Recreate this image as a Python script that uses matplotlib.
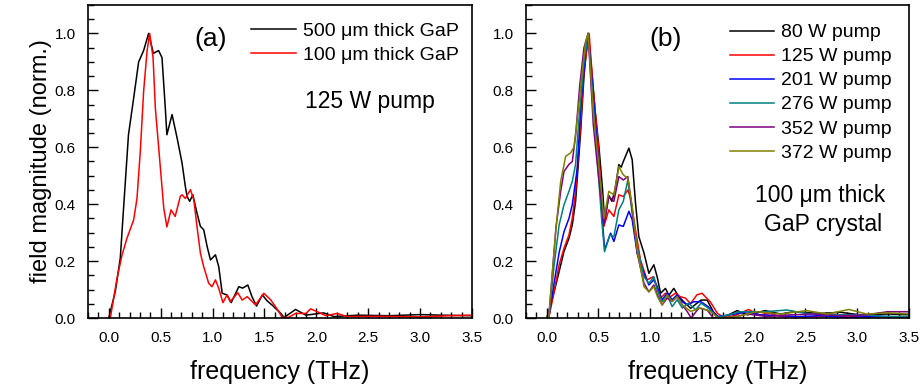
import matplotlib
matplotlib.use("Agg")
import matplotlib.pyplot as plt
from matplotlib.ticker import MultipleLocator, FormatStrFormatter

plt.rcParams['font.family'] = ['Liberation Sans', 'DejaVu Sans']

# (a) 125 W pump, two crystal thicknesses
f_500 = [0.0, 0.063, 0.111, 0.143, 0.19, 0.24, 0.288, 0.336, 0.384, 0.43,
         0.48, 0.513, 0.545, 0.56, 0.61, 0.66, 0.706, 0.738, 0.755, 0.78,
         0.81, 0.85, 0.883, 0.915, 0.948, 0.98, 1.028, 1.06, 1.093, 1.14,
         1.18, 1.253, 1.29, 1.34, 1.38, 1.424, 1.48, 1.527, 1.575, 1.655,
         1.69, 1.80, 1.90, 2.07, 2.17, 2.4, 2.7, 3.0, 3.2, 3.5]
v_500 = [0.0, 0.093, 0.21, 0.387, 0.644, 0.773, 0.90, 0.94, 1.0, 0.93,
         0.94, 0.915, 0.737, 0.644, 0.715, 0.63, 0.545, 0.462, 0.427, 0.41,
         0.433, 0.369, 0.322, 0.31, 0.251, 0.204, 0.222, 0.18, 0.087, 0.081,
         0.054, 0.11, 0.105, 0.116, 0.075, 0.042, 0.081, 0.06, 0.045, 0.017,
         0.002, 0.03, 0.01, 0.018, 0.005, 0.01, 0.008, 0.012, 0.01, 0.008]
f_100 = [0.015, 0.08, 0.127, 0.175, 0.24, 0.272, 0.304, 0.336, 0.369, 0.394,
         0.427, 0.449, 0.49, 0.53, 0.56, 0.60, 0.64, 0.69, 0.706, 0.738,
         0.787, 0.82, 0.85, 0.883, 0.915, 0.963, 0.995, 1.028, 1.06, 1.10,
         1.14, 1.17, 1.243, 1.285, 1.334, 1.414, 1.494, 1.56, 1.64, 1.67,
         1.73, 1.80, 1.90, 1.945, 2.01, 2.09, 2.20, 2.30, 2.6, 3.0,
         3.3, 3.5]
v_100 = [0.0, 0.14, 0.22, 0.28, 0.345, 0.42, 0.586, 0.797, 0.938, 1.0,
         0.915, 0.737, 0.56, 0.386, 0.32, 0.38, 0.357, 0.428, 0.433, 0.42,
         0.451, 0.415, 0.322, 0.228, 0.18, 0.122, 0.11, 0.134, 0.104, 0.054,
         0.081, 0.057, 0.089, 0.063, 0.075, 0.046, 0.087, 0.064, 0.022, 0.002,
         0.002, 0.016, 0.016, 0.032, 0.022, 0.008, 0.016, 0.005, 0.006, 0.004,
         0.008, 0.01]

# (b) 100 um crystal, different pump powers
f_80 = [0.0, 0.05, 0.12, 0.167, 0.215, 0.247, 0.279, 0.328, 0.36, 0.40,
        0.44, 0.47, 0.505, 0.54, 0.56, 0.60, 0.63, 0.66, 0.697, 0.72,
        0.74, 0.794, 0.826, 0.858, 0.89, 0.94, 0.987, 1.035, 1.067, 1.10,
        1.147, 1.18, 1.228, 1.276, 1.325, 1.39, 1.49, 1.55, 1.61, 1.66,
        1.74, 1.84, 1.94, 2.11, 2.26, 2.39, 2.64, 2.84, 3.03, 3.29, 3.5]
v_80 = [0.0, 0.06, 0.163, 0.234, 0.28, 0.327, 0.41, 0.656, 0.85, 1.0,
        0.85, 0.72, 0.6, 0.45, 0.34, 0.43, 0.41, 0.45, 0.539, 0.53,
        0.55, 0.597, 0.556, 0.404, 0.286, 0.228, 0.157, 0.187, 0.145, 0.087,
        0.104, 0.08, 0.104, 0.075, 0.057, 0.034, 0.063, 0.063, 0.022, 0.002,
        0.008, 0.026, 0.011, 0.026, 0.014, 0.022, 0.016, 0.02, 0.011, 0.014, 0.012]
f_125 = [0.0, 0.02, 0.07, 0.12, 0.167, 0.215, 0.247, 0.279, 0.328, 0.36,
         0.41, 0.45, 0.50, 0.53, 0.553, 0.60, 0.649, 0.697, 0.74, 0.784,
         0.81, 0.858, 0.906, 0.97, 1.03, 1.067, 1.10, 1.147, 1.196, 1.244,
         1.29, 1.34, 1.39, 1.45, 1.50, 1.58, 1.65, 1.71, 1.81, 1.95,
         2.05, 2.16, 2.26, 2.5, 2.8, 3.1, 3.5]
v_125 = [0.0, 0.0, 0.09, 0.187, 0.245, 0.292, 0.35, 0.445, 0.68, 0.87,
         1.0, 0.8, 0.6, 0.42, 0.322, 0.38, 0.357, 0.433, 0.427, 0.45,
         0.421, 0.309, 0.204, 0.134, 0.145, 0.11, 0.07, 0.087, 0.075, 0.087,
         0.075, 0.07, 0.05, 0.081, 0.087, 0.057, 0.016, 0.002, 0.007, 0.03,
         0.011, 0.016, 0.005, 0.004, 0.006, 0.004, 0.005]
f_201 = [0.0, 0.02, 0.07, 0.12, 0.167, 0.215, 0.247, 0.296, 0.328, 0.376,
         0.40, 0.45, 0.50, 0.53, 0.56, 0.617, 0.649, 0.697, 0.74, 0.794,
         0.826, 0.874, 0.94, 0.987, 1.035, 1.067, 1.115, 1.164, 1.212, 1.26,
         1.31, 1.357, 1.42, 1.49, 1.56, 1.65, 1.77, 1.94, 2.06, 2.26,
         2.42, 2.64, 2.90, 3.22, 3.5]
v_201 = [0.0, 0.0, 0.12, 0.23, 0.303, 0.35, 0.398, 0.527, 0.74, 0.937,
         1.0, 0.78, 0.55, 0.38, 0.24, 0.298, 0.269, 0.327, 0.322, 0.375,
         0.345, 0.228, 0.157, 0.116, 0.134, 0.11, 0.064, 0.087, 0.064, 0.081,
         0.057, 0.046, 0.057, 0.057, 0.04, 0.005, 0.011, 0.022, 0.011, 0.008,
         0.005, 0.008, 0.002, 0.006, 0.003]
f_276 = [0.0, 0.02, 0.07, 0.12, 0.167, 0.215, 0.247, 0.279, 0.312, 0.36,
         0.40, 0.45, 0.50, 0.53, 0.559, 0.61, 0.649, 0.697, 0.74, 0.784,
         0.826, 0.874, 0.94, 0.987, 1.035, 1.067, 1.115, 1.164, 1.212, 1.26,
         1.31, 1.37, 1.44, 1.49, 1.56, 1.65, 1.87, 2.10, 2.32, 2.51,
         2.77, 3.03, 3.29, 3.5]
v_276 = [0.0, 0.0, 0.18, 0.327, 0.398, 0.445, 0.48, 0.54, 0.70, 0.9,
         1.0, 0.75, 0.5, 0.35, 0.233, 0.292, 0.286, 0.38, 0.41, 0.485,
         0.368, 0.251, 0.145, 0.122, 0.145, 0.099, 0.058, 0.081, 0.04, 0.064,
         0.035, 0.052, 0.029, 0.052, 0.035, 0.002, 0.022, 0.022, 0.028, 0.016,
         0.011, 0.012, 0.005, 0.006]
f_352 = [0.0, 0.02, 0.09, 0.135, 0.167, 0.215, 0.247, 0.279, 0.32, 0.36,
         0.40, 0.45, 0.50, 0.553, 0.60, 0.649, 0.697, 0.74, 0.784, 0.826,
         0.874, 0.94, 0.987, 1.035, 1.07, 1.115, 1.164, 1.212, 1.26, 1.31,
         1.357, 1.395, 1.47, 1.55, 1.61, 1.77, 1.94, 2.13, 2.35, 2.57,
         2.83, 3.09, 3.29, 3.5]
v_352 = [0.0, 0.0, 0.32, 0.445, 0.515, 0.54, 0.55, 0.64, 0.82, 0.95,
         1.0, 0.68, 0.5, 0.33, 0.428, 0.41, 0.497, 0.485, 0.497, 0.38,
         0.228, 0.122, 0.092, 0.116, 0.081, 0.046, 0.07, 0.058, 0.075, 0.046,
         0.023, 0.0, 0.035, 0.028, 0.0, 0.0, 0.014, 0.005, 0.011, 0.014,
         0.008, 0.011, 0.022, 0.022]
f_372 = [0.0, 0.02, 0.087, 0.135, 0.183, 0.23, 0.263, 0.296, 0.344, 0.376,
         0.40, 0.45, 0.50, 0.553, 0.60, 0.649, 0.697, 0.74, 0.784, 0.826,
         0.874, 0.94, 0.987, 1.035, 1.07, 1.115, 1.164, 1.212, 1.26, 1.31,
         1.39, 1.49, 1.58, 1.66, 1.84, 2.03, 2.26, 2.51, 2.71, 2.92,
         3.09, 3.29, 3.5]
v_372 = [0.0, 0.0, 0.304, 0.48, 0.568, 0.58, 0.60, 0.70, 0.867, 0.97,
         1.0, 0.72, 0.55, 0.35, 0.445, 0.433, 0.532, 0.503, 0.491, 0.392,
         0.239, 0.11, 0.092, 0.11, 0.075, 0.046, 0.081, 0.058, 0.075, 0.046,
         0.023, 0.035, 0.023, 0.0, 0.005, 0.022, 0.014, 0.026, 0.014, 0.03,
         0.014, 0.018, 0.014]

labels_a = ['500 μm thick GaP', '100 μm thick GaP']
labels_b = ['80 W pump', '125 W pump', '201 W pump', '276 W pump',
            '352 W pump', '372 W pump']
colors_b = ['black', 'red', 'blue', '#008080', '#800080', '#808000']

fig = plt.figure(figsize=(9.21, 3.88), dpi=100)
ax1 = fig.add_axes([88 / 921, 1 - 318 / 388, 384 / 921, 313 / 388])
ax2 = fig.add_axes([526 / 921, 1 - 318 / 388, 383 / 921, 313 / 388])

ax1.plot(f_500, v_500, color='black', lw=1.1, label=labels_a[0])
ax1.plot(f_100, v_100, color='red', lw=1.1, label=labels_a[1])

series_b = [(f_80, v_80), (f_125, v_125), (f_201, v_201),
            (f_276, v_276), (f_352, v_352), (f_372, v_372)]
for (f, v), c, lab in zip(series_b, colors_b, labels_b):
    ax2.plot(f, v, color=c, lw=1.1, label=lab)

for ax in (ax1, ax2):
    ax.set_xlim(-0.2, 3.5)
    ax.set_ylim(0, 1.1)
    ax.set_xticks([0, 0.5, 1.0, 1.5, 2.0, 2.5, 3.0, 3.5])
    ax.xaxis.set_minor_locator(MultipleLocator(0.1))
    ax.yaxis.set_major_locator(MultipleLocator(0.2))
    ax.yaxis.set_minor_locator(MultipleLocator(0.05))
    ax.xaxis.set_major_formatter(FormatStrFormatter('%.1f'))
    ax.yaxis.set_major_formatter(FormatStrFormatter('%.1f'))
    ax.tick_params(which='both', direction='in', top=False, right=False,
                   labelsize=11, width=1)
    ax.tick_params(which='major', length=7, pad=9)
    ax.tick_params(which='minor', length=4)
    for s in ax.spines.values():
        s.set_linewidth(1.2)
    ax.set_xlabel('frequency (THz)', fontsize=18, labelpad=11)

ax1.set_ylabel('field magnitude (norm.)', fontsize=17, labelpad=2)

ax1.legend(loc='upper right', bbox_to_anchor=(0.965, 0.945), frameon=False,
           fontsize=14, handlelength=2.3, handletextpad=0.35,
           labelspacing=0.35, borderpad=0, borderaxespad=0)
ax2.legend(loc='upper right', bbox_to_anchor=(0.955, 0.94), frameon=False,
           fontsize=14, handlelength=2.3, handletextpad=0.35,
           labelspacing=0.33, borderpad=0, borderaxespad=0)

ax1.text(0.98, 0.98, '(a)', fontsize=19, ha='center', va='center')
ax1.text(2.52, 0.76, '125 W pump', fontsize=16.5, ha='center', va='center')
ax2.text(1.15, 0.98, '(b)', fontsize=19, ha='center', va='center')
ax2.text(2.64, 0.43, '100 μm thick', fontsize=16.5, ha='center', va='center')
ax2.text(2.67, 0.33, 'GaP crystal', fontsize=16.5, ha='center', va='center')

fig.savefig('out.png', dpi=100)
